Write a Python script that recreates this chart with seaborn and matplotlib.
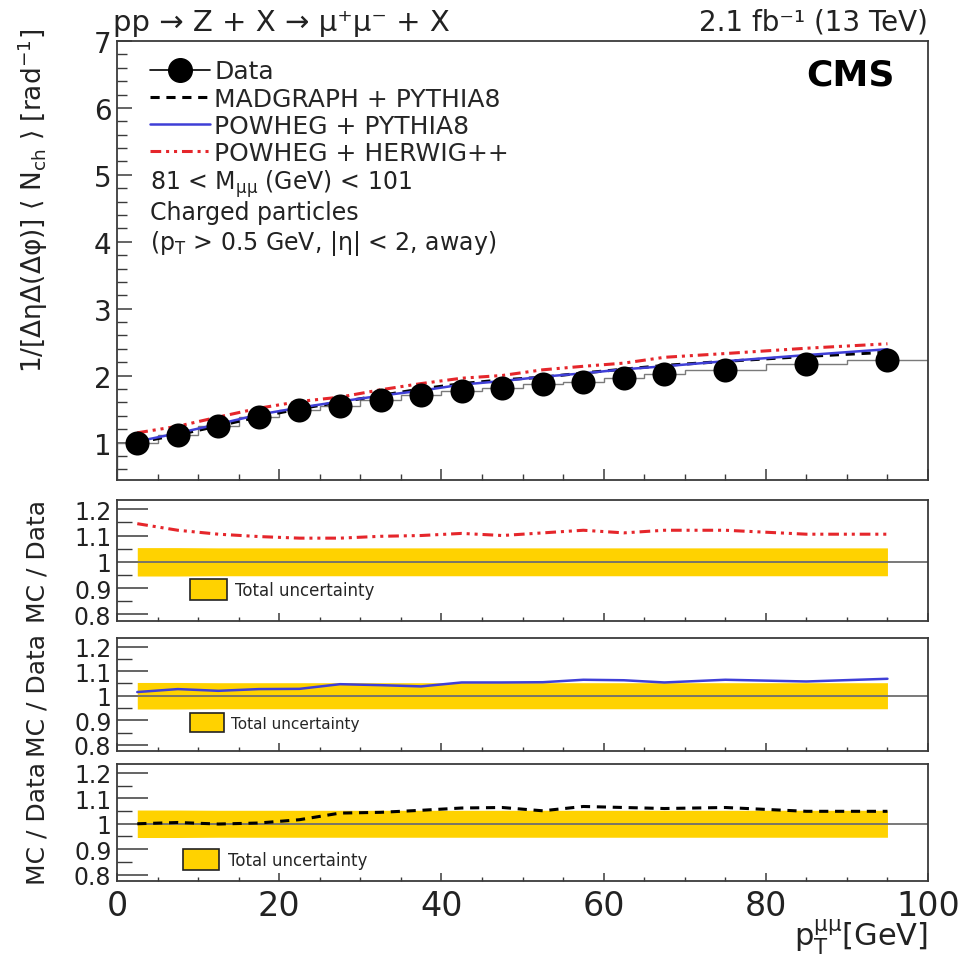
import numpy as np
import matplotlib
matplotlib.use("Agg")
import matplotlib.pyplot as plt
from matplotlib.lines import Line2D
from matplotlib.patches import Patch
from matplotlib.ticker import MultipleLocator, FixedLocator, NullFormatter
import seaborn as sns

# pT(mumu) binning: 5 GeV bins up to 70 GeV, then 10 GeV bins
bin_edges = [0, 5, 10, 15, 20, 25, 30, 35, 40, 45, 50, 55, 60, 65, 70, 80, 90, 100]
bin_centers = [2.5, 7.5, 12.5, 17.5, 22.5, 27.5, 32.5, 37.5, 42.5, 47.5,
               52.5, 57.5, 62.5, 67.5, 75.0, 85.0, 95.0]

# Charged-particle density, away region
data_values = [1.00, 1.11, 1.25, 1.38, 1.48, 1.54, 1.63, 1.71, 1.77, 1.82,
               1.88, 1.91, 1.97, 2.03, 2.08, 2.18, 2.24]

# MC / Data ratios
ratio_madgraph_pythia8 = [1.000, 1.005, 0.999, 1.003, 1.016, 1.042, 1.045, 1.053, 1.062,
                          1.064, 1.051, 1.068, 1.064, 1.060, 1.064, 1.049, 1.049]
ratio_powheg_pythia8 = [1.015, 1.027, 1.020, 1.027, 1.028, 1.047, 1.043, 1.038, 1.054,
                        1.054, 1.055, 1.065, 1.063, 1.054, 1.065, 1.058, 1.069]
ratio_powheg_herwig = [1.145, 1.120, 1.105, 1.096, 1.090, 1.090, 1.097, 1.100, 1.108,
                       1.100, 1.110, 1.120, 1.110, 1.120, 1.120, 1.105, 1.105]

# Relative total uncertainty of the measurement
total_uncertainty = [0.054, 0.054, 0.053, 0.053, 0.053, 0.053, 0.053, 0.053, 0.053,
                     0.053, 0.053, 0.053, 0.053, 0.053, 0.053, 0.053, 0.053]

labels = ["Data", "MADGRAPH + PYTHIA8", "POWHEG + PYTHIA8", "POWHEG + HERWIG++"]

RED = "#e5262b"
BLUE = "#3f3fd6"
GOLD = "#ffd200"
FRAME = "#3a3a3a"
TEXT = "#222222"
dash_black = (0, (3.0, 2.2))
dashdot_red = (0, (3.5, 1.6, 1.0, 1.6, 1.0, 1.6))

sns.set_theme(style="ticks")
plt.rcParams["font.family"] = ["DejaVu Sans"]
plt.rcParams["mathtext.fontset"] = "dejavusans"
plt.rcParams["axes.edgecolor"] = FRAME
plt.rcParams["axes.linewidth"] = 1.3

x = np.array(bin_centers)
data = np.array(data_values)
unc = np.array(total_uncertainty)
models = [
    (np.array(ratio_madgraph_pythia8), dict(color="black", linestyle=dash_black, linewidth=2.2)),
    (np.array(ratio_powheg_pythia8), dict(color=BLUE, linestyle="-", linewidth=1.8)),
    (np.array(ratio_powheg_herwig), dict(color=RED, linestyle=dashdot_red, linewidth=2.2)),
]

fig = plt.figure(figsize=(9.59, 9.62), dpi=100)
W, H = 959.0, 962.0
left, right = 117, 928


def add_panel(top, bottom):
    return fig.add_axes([left / W, 1 - bottom / H, (right - left) / W, (bottom - top) / H])


ax = add_panel(42, 481)
r1 = add_panel(501, 622)
r2 = add_panel(639, 752)
r3 = add_panel(765, 882)

# ---- main panel ----
ax.stairs(data, bin_edges, color="#7a7a7a", linewidth=1.0, zorder=2)
for ratio, style in models:
    sns.lineplot(x=x, y=data * ratio, ax=ax, zorder=3, **style)
sns.scatterplot(x=x, y=data, ax=ax, s=300, color="black", edgecolor="black",
                linewidth=0, zorder=5)

ax.set_xlim(0, 100)
ax.set_ylim(0.44, 7)
ax.yaxis.set_major_locator(FixedLocator([1, 2, 3, 4, 5, 6, 7]))
ax.yaxis.set_minor_locator(MultipleLocator(0.2))
ax.xaxis.set_major_locator(MultipleLocator(20))
ax.xaxis.set_minor_locator(MultipleLocator(5))
ax.xaxis.set_major_formatter(NullFormatter())
ax.tick_params(axis="y", which="major", direction="in", length=11, width=1.1,
               labelsize=20, pad=4, colors=FRAME, labelcolor=TEXT)
ax.tick_params(axis="y", which="minor", direction="in", length=7, width=1.0, colors=FRAME)
ax.tick_params(axis="x", which="major", direction="in", length=8, width=1.1, colors=FRAME)
ax.tick_params(axis="x", which="minor", direction="in", length=4, width=1.0, colors=FRAME)
ax.set_xlabel("")
ax.set_ylabel("1/[\u0394\u03b7\u0394(\u0394\u03c6)] $\\langle$ N$_{\\rm ch}$ $\\rangle$ [rad$^{-1}$]",
              fontsize=19, loc="top", color=TEXT)
ax.yaxis.set_label_coords(-0.083, 1.03)

handles = [
    Line2D([], [], color="black", linewidth=1.2, marker="o", markersize=17),
    Line2D([], [], **models[0][1]),
    Line2D([], [], **models[1][1]),
    Line2D([], [], **models[2][1]),
]
ax.legend(handles, labels, loc="upper left", bbox_to_anchor=(0.041, 0.958),
          frameon=False, fontsize=18, handlelength=2.4, handletextpad=0.15,
          labelspacing=0.13, borderpad=0, borderaxespad=0)

info = [
    "81 < M$_{\\mathrm{\u03bc\u03bc}}$ (GeV) < 101",
    "Charged particles",
    "(p$_{\\rm T}$ > 0.5 GeV, |\u03b7| < 2, away)",
]
for txt, yy in zip(info, [0.676, 0.610, 0.542]):
    ax.text(0.041, yy, txt, transform=ax.transAxes, fontsize=17, va="center",
            ha="left", color=TEXT)

ax.text(-0.005, 1.012, "pp \u2192 Z + X \u2192 \u03bc\u207a\u03bc\u207b + X",
        transform=ax.transAxes, fontsize=21, ha="left", va="bottom", color=TEXT)
ax.text(1.0, 1.012, "2.1 fb\u207b\u00b9 (13 TeV)", transform=ax.transAxes,
        fontsize=20, ha="right", va="bottom", color=TEXT)
ax.text(0.959, 0.923, "CMS", transform=ax.transAxes, fontsize=26,
        fontweight="bold", ha="right", va="center", color="black")

# ---- ratio panels ----
ratio_panels = [
    (r1, models[2], (0.090, 0.347), 12),
    (r2, models[1], (0.090, 0.336), 11),
    (r3, models[0], (0.081, 0.274), 12),
]
for rax, (ratio, style), anchor, lfs in ratio_panels:
    rax.fill_between(x, 1 - unc, 1 + unc, color=GOLD, linewidth=0, zorder=1)
    rax.axhline(1.0, color="#6e6e6e", linewidth=1.3, zorder=2)
    sns.lineplot(x=x, y=ratio, ax=rax, zorder=3, **style)
    rax.set_xlim(0, 100)
    rax.set_ylim(0.775, 1.235)
    rax.yaxis.set_major_locator(FixedLocator([0.8, 0.9, 1.0, 1.1, 1.2]))
    rax.yaxis.set_minor_locator(FixedLocator([0.85, 0.95, 1.05, 1.15]))
    rax.set_yticklabels(["0.8", "0.9", "1", "1.1", "1.2"])
    rax.xaxis.set_major_locator(MultipleLocator(20))
    rax.xaxis.set_minor_locator(MultipleLocator(5))
    rax.tick_params(axis="y", which="major", direction="in", length=22, width=1.1,
                    labelsize=17, pad=4, colors=FRAME, labelcolor=TEXT)
    rax.tick_params(axis="y", which="minor", direction="in", length=11, width=1.0,
                    colors=FRAME)
    rax.tick_params(axis="x", which="major", direction="in", length=6, width=1.1,
                    colors=FRAME)
    rax.tick_params(axis="x", which="minor", direction="in", length=3, width=1.0,
                    colors=FRAME)
    rax.set_xlabel("")
    rax.set_ylabel("MC / Data", fontsize=18, color=TEXT)
    rax.yaxis.set_label_coords(-0.083, 0.5)
    rax.legend([Patch(facecolor=GOLD, edgecolor=TEXT, linewidth=1.2)],
               ["Total uncertainty"], loc="upper left", bbox_to_anchor=anchor,
               frameon=False, fontsize=lfs, handlelength=2.2, handleheight=1.55,
               handletextpad=0.5, borderpad=0, borderaxespad=0)

for rax in (r1, r2):
    rax.xaxis.set_major_formatter(NullFormatter())
r3.tick_params(axis="x", which="major", labelsize=24, pad=6, labelcolor=TEXT)
r3.set_xlabel("p$_{\\rm T}^{\\mathrm{\u03bc\u03bc}}$[GeV]", fontsize=22, loc="right", color=TEXT)
r3.xaxis.set_label_coords(1.0, -0.30)

fig.savefig("out.png", dpi=100, facecolor="white")
